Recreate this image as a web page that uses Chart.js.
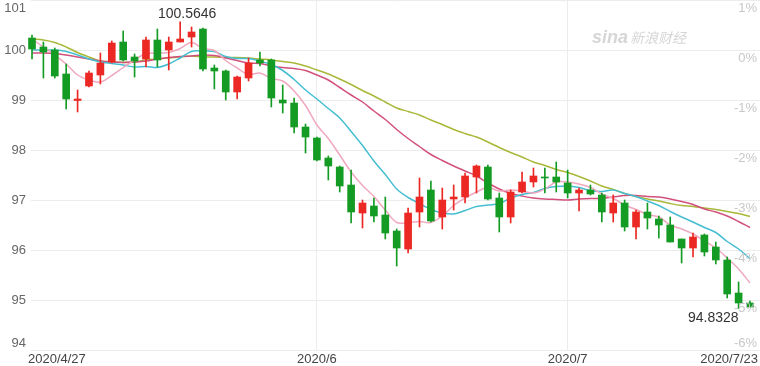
<!DOCTYPE html>
<html>
<head>
<meta charset="utf-8">
<script src="https://cdn.jsdelivr.net/npm/chart.js@4.4.1/dist/chart.umd.min.js"></script>
<style>
  html, body { margin: 0; padding: 0; background: #fff; overflow: hidden; }
</style>
</head>
<body>
<canvas id="kline" width="760" height="366"></canvas>
<script>
// ── Data ──────────────────────────────────────────────────────
const dates = [
  "2020/4/27","2020/4/28","2020/4/29","2020/4/30","2020/5/1",
  "2020/5/4","2020/5/5","2020/5/6","2020/5/7","2020/5/8",
  "2020/5/11","2020/5/12","2020/5/13","2020/5/14","2020/5/15",
  "2020/5/18","2020/5/19","2020/5/20","2020/5/21","2020/5/22",
  "2020/5/25","2020/5/26","2020/5/27","2020/5/28","2020/5/29",
  "2020/6/1","2020/6/2","2020/6/3","2020/6/4","2020/6/5",
  "2020/6/8","2020/6/9","2020/6/10","2020/6/11","2020/6/12",
  "2020/6/15","2020/6/16","2020/6/17","2020/6/18","2020/6/19",
  "2020/6/22","2020/6/23","2020/6/24","2020/6/25","2020/6/26",
  "2020/6/29","2020/6/30","2020/7/1","2020/7/2","2020/7/3",
  "2020/7/6","2020/7/7","2020/7/8","2020/7/9","2020/7/10",
  "2020/7/13","2020/7/14","2020/7/15","2020/7/16","2020/7/17",
  "2020/7/20","2020/7/21","2020/7/22","2020/7/23"
];

const opens = [
  100.24,100.06,100.00,99.52,98.99, 99.28,99.50,99.76,100.16,99.86,
  99.82,100.20,100.00,100.16,100.26, 100.42,99.64,99.58,99.16,99.44,
  99.80,99.80,99.00,98.94,98.46, 98.24,97.84,97.66,97.30,96.74,
  96.88,96.70,96.38,96.02,96.76, 97.20,96.66,97.02,97.06,97.46,
  97.66,97.04,96.66,97.16,97.36, 97.46,97.46,97.34,97.14,97.20,
  97.10,96.74,96.94,96.46,96.76, 96.62,96.50,96.22,96.04,96.30,
  96.06,95.80,95.14,94.94
];
const highs = [
  100.30,100.16,100.04,99.72,99.20, 99.58,99.94,100.18,100.38,99.92,
  100.26,100.42,100.26,100.5646,100.46, 100.44,99.70,99.60,99.48,99.84,
  99.96,99.82,99.30,99.04,98.52, 98.26,97.88,97.68,97.60,97.00,
  97.04,97.06,96.42,96.84,97.44, 97.38,97.24,97.30,97.54,97.70,
  97.70,97.14,97.20,97.56,97.64, 97.64,97.76,97.60,97.24,97.30,
  97.14,97.10,97.00,96.80,96.94, 96.68,96.66,96.22,96.34,96.32,
  96.16,95.86,95.36,94.98
];
const lows = [
  99.82,99.44,99.44,98.82,98.76, 99.26,99.32,99.74,99.78,99.46,
  99.66,99.66,99.60,100.16,100.06, 99.58,99.22,99.00,99.02,99.38,
  99.68,98.86,98.74,98.34,97.94, 97.78,97.40,97.16,96.54,96.44,
  96.56,96.22,95.68,95.94,96.46, 96.56,96.42,96.80,96.94,97.14,
  97.00,96.36,96.54,97.14,97.26, 97.14,97.16,97.04,96.78,97.10,
  96.56,96.56,96.38,96.22,96.42, 96.24,96.16,95.74,95.86,95.88,
  95.72,95.04,94.8328,94.86
];
const closes = [
  100.02,99.96,99.48,99.02,99.02, 99.54,99.74,100.14,99.80,99.78,
  100.20,99.80,100.16,100.22,100.36, 99.62,99.58,99.16,99.46,99.74,
  99.74,99.04,98.94,98.46,98.26, 97.80,97.68,97.28,96.76,96.94,
  96.68,96.34,96.04,96.74,97.06, 96.58,97.00,97.06,97.48,97.68,
  97.02,96.66,97.16,97.36,97.48, 97.44,97.36,97.14,97.20,97.12,
  96.76,96.94,96.46,96.76,96.64, 96.50,96.16,96.04,96.26,95.96,
  95.80,95.12,94.94,94.86
];

// moving average lines
const ma5 = [
  100.22,100.06,99.90,99.72,99.50, 99.40,99.36,99.49,99.65,99.80,
  99.93,99.94,99.95,100.03,100.15, 100.03,99.99,99.79,99.64,99.51,
  99.54,99.43,99.38,99.18,98.89, 98.50,98.23,97.90,97.56,97.29,
  97.07,96.80,96.55,96.55,96.57, 96.55,96.68,96.89,97.04,97.16,
  97.25,97.18,97.20,97.18,97.14, 97.22,97.36,97.36,97.32,97.25,
  97.12,97.03,96.90,96.81,96.71, 96.66,96.50,96.42,96.32,96.18,
  96.04,95.84,95.62,95.34
];
const ma10 = [
  100.00,100.00,100.00,99.97,99.90, 99.82,99.76,99.73,99.70,99.66,
  99.67,99.65,99.72,99.84,99.97, 99.98,99.97,99.87,99.83,99.83,
  99.78,99.71,99.59,99.41,99.20, 99.02,98.83,98.64,98.37,98.09,
  97.78,97.51,97.22,97.05,96.93, 96.81,96.74,96.72,96.79,96.87,
  96.90,96.93,97.04,97.11,97.15, 97.23,97.27,97.28,97.25,97.19,
  97.17,97.20,97.13,97.07,96.98, 96.89,96.77,96.66,96.56,96.45,
  96.35,96.17,96.02,95.83
];
const ma20 = [
  99.94,99.94,99.93,99.90,99.86, 99.82,99.78,99.76,99.75,99.76,
  99.78,99.82,99.85,99.87,99.88, 99.90,99.89,99.84,99.79,99.74,
  99.73,99.68,99.65,99.63,99.59, 99.50,99.40,99.25,99.10,98.96,
  98.78,98.61,98.41,98.23,98.07, 97.91,97.79,97.68,97.58,97.48,
  97.34,97.22,97.13,97.08,97.04, 97.02,97.01,97.00,97.02,97.03,
  97.03,97.06,97.09,97.09,97.07, 97.06,97.02,96.97,96.91,96.82,
  96.76,96.68,96.57,96.45
];
const ma30 = [
  100.22,100.20,100.15,100.06,99.95, 99.86,99.78,99.76,99.75,99.76,
  99.80,99.82,99.84,99.86,99.88, 99.86,99.86,99.85,99.85,99.84,
  99.82,99.80,99.77,99.74,99.68, 99.60,99.52,99.42,99.31,99.19,
  99.08,98.96,98.84,98.77,98.70, 98.60,98.51,98.41,98.33,98.26,
  98.16,98.05,97.95,97.86,97.76, 97.69,97.61,97.55,97.47,97.38,
  97.28,97.21,97.13,97.07,97.02, 96.98,96.93,96.89,96.87,96.84,
  96.81,96.77,96.73,96.67
];

const priceTicks = [101, 100, 99, 98, 97, 96, 95, 94];
const pctBase = 100;
const monthDates = ["2020/6/1", "2020/7/1"];
const axisLabels = [
  { date: "2020/4/27", text: "2020/4/27", align: "left" },
  { date: "2020/6/1",  text: "2020/6",    align: "center" },
  { date: "2020/7/1",  text: "2020/7",    align: "center" },
  { date: "2020/7/23", text: "2020/7/23", align: "right" }
];

// ── Colours ───────────────────────────────────────────────────
const RED = "#eb2823", GREEN = "#149b23";
const MA_COLORS = ["#f0a8bf", "#46bed2", "#d2507c", "#a9b838"];
const GRID = "#ececec";

const candleColors = closes.map((c, i) => c >= opens[i] ? RED : GREEN);
const toXY = arr => arr.map((v, i) => ({ x: i, y: v }));

// ── Labels, watermark, extremes ───────────────────────────────
const labelPlugin = {
  id: "labels",
  beforeDatasetsDraw(chart) {
    const ctx = chart.ctx;
    ctx.save();
    ctx.fillStyle = "#d6d6d6";
    ctx.textBaseline = "alphabetic";
    ctx.textAlign = "left";
    ctx.font = "italic bold 18px Arial";
    ctx.fillText("sina", 592, 43);
    ctx.font = "italic 14px 'Noto Sans CJK SC'";
    ctx.fillText("新浪财经", 630, 43);
    ctx.restore();
  },
  afterDraw(chart) {
    const ctx = chart.ctx, xs = chart.scales.x, ys = chart.scales.y;
    ctx.save();
    ctx.textBaseline = "middle";
    ctx.font = "13px Arial";

    // left price axis
    ctx.fillStyle = "#666";
    ctx.textAlign = "right";
    priceTicks.forEach(v => {
      const y = Math.min(343, Math.max(8, ys.getPixelForValue(v)));
      ctx.fillText(String(v), 26, y);
    });

    // right percent axis
    ctx.fillStyle = "#c8c8c8";
    priceTicks.forEach(v => {
      const p = Math.round((v - pctBase) / pctBase * 100);
      const y = Math.min(343, ys.getPixelForValue(v) + 8);
      ctx.fillText(p + "%", 757, y);
    });

    // date axis
    ctx.fillStyle = "#444";
    axisLabels.forEach(l => {
      const i = dates.indexOf(l.date);
      let x = xs.getPixelForValue(i);
      if (l.align === "left") x = 28;
      if (l.align === "right") x = 758;
      ctx.textAlign = l.align;
      ctx.fillText(l.text, x, 359);
    });

    // max / min marks
    ctx.font = "14px Arial";
    ctx.fillStyle = "#333";
    const hi = Math.max(...highs), lo = Math.min(...lows);
    const iHi = highs.indexOf(hi), iLo = lows.indexOf(lo);
    ctx.textAlign = "center";
    ctx.textBaseline = "bottom";
    ctx.fillText(hi.toFixed(4), xs.getPixelForValue(iHi) + 7, ys.getPixelForValue(hi) - 1);
    ctx.textAlign = "right";
    ctx.textBaseline = "top";
    ctx.fillText(lo.toFixed(4), xs.getPixelForValue(iLo), ys.getPixelForValue(lo) + 3);
    ctx.restore();
  }
};

// ── Chart ─────────────────────────────────────────────────────
const maLine = (data, color) => ({
  type: "line",
  data: toXY(data),
  borderColor: color,
  borderWidth: 1.5,
  pointRadius: 0,
  tension: 0.35,
  order: 2
});

new Chart(document.getElementById("kline").getContext("2d"), {
  type: "bar",
  data: {
    datasets: [
      {
        label: "wick",
        data: lows.map((l, i) => ({ x: i, y: [l, highs[i]] })),
        backgroundColor: candleColors,
        barThickness: 1,
        grouped: false,
        clip: false,
        order: 1
      },
      {
        label: "body",
        data: opens.map((o, i) => ({ x: i, y: [o, closes[i]] })),
        backgroundColor: candleColors,
        barThickness: 7,
        grouped: false,
        clip: false,
        order: 0
      },
      maLine(ma5, MA_COLORS[0]),
      maLine(ma10, MA_COLORS[1]),
      maLine(ma20, MA_COLORS[2]),
      maLine(ma30, MA_COLORS[3])
    ]
  },
  options: {
    responsive: false,
    animation: false,
    layout: { padding: { left: 31, right: 0, top: 0, bottom: 16 } },
    plugins: { legend: { display: false }, tooltip: { enabled: false } },
    scales: {
      x: {
        type: "linear",
        offset: false,
        min: -0.088, max: 63.878,
        ticks: { display: false },
        grid: { color: GRID, drawTicks: false, offset: false },
        border: { display: false },
        afterBuildTicks: s => { s.ticks = monthDates.map(d => ({ value: dates.indexOf(d) })); }
      },
      y: {
        min: 94, max: 101,
        ticks: { display: false, stepSize: 1 },
        grid: { color: GRID, drawTicks: false },
        border: { display: false }
      }
    }
  },
  plugins: [labelPlugin]
});
</script>
</body>
</html>
